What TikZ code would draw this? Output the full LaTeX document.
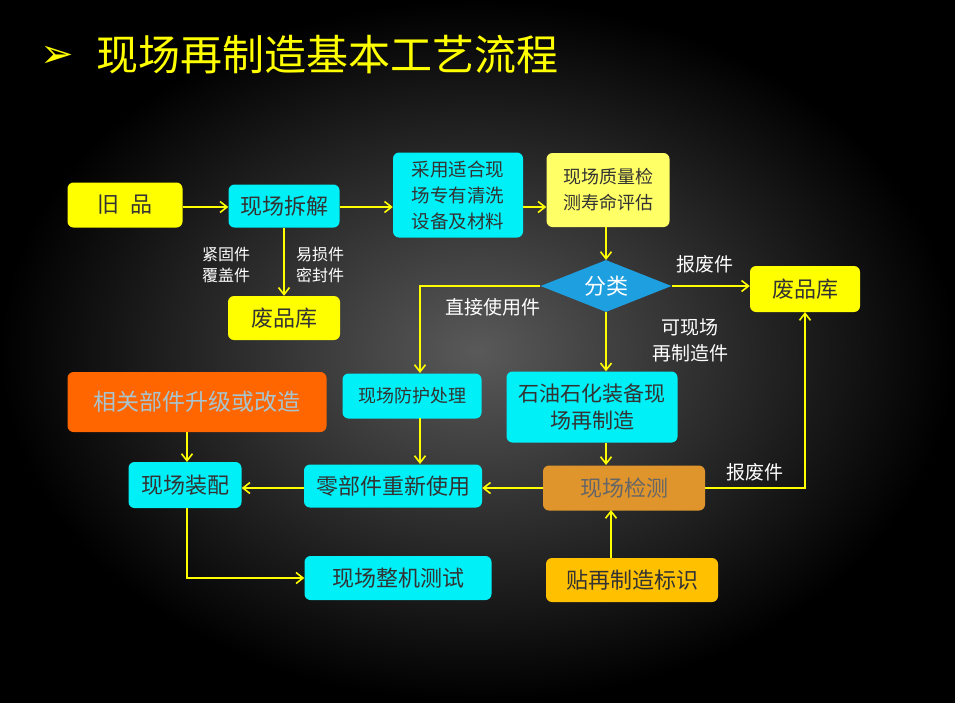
\documentclass[tikz,border=0pt]{standalone}
\usepackage{fontspec}
\setmainfont{Noto Sans CJK SC}
\usetikzlibrary{shapes.geometric,arrows.meta}
\definecolor{cy}{HTML}{00F0F8}
\definecolor{yl}{HTML}{FFFF00}
\definecolor{lyl}{HTML}{FFFF66}
\definecolor{bl}{HTML}{1E9FE0}
\definecolor{og}{HTML}{FF6600}
\definecolor{br}{HTML}{E0952C}
\definecolor{gd}{HTML}{FFC000}
\definecolor{ogt}{HTML}{A8C4D0}
\tikzset{
 box/.style={rounded corners=6pt,inner sep=1pt,align=center,font=\fontsize{22}{26}\selectfont},
 cbox/.style={box,fill=cy,text=black!80},
 ybox/.style={box,fill=yl,text=black!80},
 lbl/.style={text=white,font=\fontsize{19}{23}\selectfont,align=center},
 conn/.style={draw=yl,line width=1.6pt,-{Straight Barb[length=7pt,width=11pt,line width=1.6pt]}}
}
\begin{document}
\begin{tikzpicture}[x=1pt,y=-1pt]
\useasboundingbox (0,0) rectangle (955,702);
\fill[black] (0,0) rectangle (955,702);
\shade[inner color=black!65,outer color=black] (0,0) rectangle (955,702);
\node[text=yl,anchor=west,font=\fontsize{40}{44}\selectfont,inner sep=0pt] (arr) at (40,57) {\fontspec{DejaVu Sans}➢};
\node[text=yl,anchor=west,font=\fontsize{42}{46}\selectfont,inner sep=0pt] (title) at (96,55) {现场再制造基本工艺流程};
\node[ybox,minimum width=115,minimum height=45] (jp) at (125,205) {旧\hspace{12pt}品};
\node[cbox,minimum width=111,minimum height=43] (cj) at (284,206) {现场拆解};
\node[cbox,minimum width=130,minimum height=85,font=\fontsize{18.5}{26}\selectfont] (qx) at (458,195) {采用适合现\\场专有清洗\\设备及材料};
\node[box,fill=lyl,text=black!80,minimum width=123,minimum height=74,font=\fontsize{18}{26}\selectfont] (zl) at (608,190) {现场质量检\\测寿命评估};
\node[diamond,fill=bl,text=white,minimum width=131,minimum height=52,inner sep=0pt,aspect=2.5,font=\fontsize{22}{26}\selectfont] (fl) at (606,286) {分类};
\node[ybox,minimum width=110,minimum height=46] (fr) at (805,289) {废品库};
\node[ybox,minimum width=112,minimum height=44] (fk) at (284,318) {废品库};
\node[box,fill=og,text=ogt,minimum width=259,minimum height=60,font=\fontsize{23}{27}\selectfont] (xg) at (197,402) {相关部件升级或改造};
\node[cbox,minimum width=139,minimum height=45,font=\fontsize{18}{22}\selectfont] (fh) at (412,396) {现场防护处理};
\node[cbox,minimum width=171,minimum height=71,font=\fontsize{21}{28}\selectfont] (sy) at (592,407) {石油石化装备现\\场再制造};
\node[cbox,minimum width=113,minimum height=46] (zp) at (185,485) {现场装配};
\node[cbox,minimum width=178,minimum height=43] (lb) at (393,486) {零部件重新使用};
\node[box,fill=br,text=black!60,minimum width=162,minimum height=45] (jc) at (624,488) {现场检测};
\node[cbox,minimum width=187,minimum height=44] (zj) at (398,578) {现场整机测试};
\node[box,fill=gd,text=black!80,minimum width=172,minimum height=44] (tb) at (632,580) {贴再制造标识};
\node[lbl,font=\fontsize{16}{21}\selectfont] (l1) at (226,265) {紧固件\\覆盖件};
\node[lbl,font=\fontsize{16}{21}\selectfont] (l2) at (320,265) {易损件\\密封件};
\node[lbl] (l3) at (493,307) {直接使用件};
\node[lbl] (l4) at (705,264) {报废件};
\node[lbl,font=\fontsize{19}{26}\selectfont] (l5) at (690,340) {可现场\\再制造件};
\node[lbl] (l6) at (755,472) {报废件};
\draw[conn] (jp.east|-0,207) -- (cj.west|-0,207);
\draw[conn] (cj.east|-0,207) -- (qx.west|-0,207);
\draw[conn] (qx.east|-0,207) -- (zl.west|-0,207);
\draw[conn] (606,227) -- (606,260);
\draw[conn] (fl.east) -- (fr.west|-fl.east);
\draw[conn] (cj.south) -- (fk.north);
\draw[conn] (fl.west) -| (420,373);
\draw[conn] (fl.south) -- (fl.south|-sy.north);
\draw[conn] (420,418) -- (420,464);
\draw[conn] (606,443) -- (606,465);
\draw[conn] (jc.west|-0,488) -- (lb.east|-0,488);
\draw[conn] (lb.west|-0,488) -- (zp.east|-0,488);
\draw[conn] (187,432) -- (187,462);
\draw[conn] (187,508) |- (zj.west);
\draw[conn] (611,558) -- (611,510);
\draw[conn] (jc.east) -| (805,312);
\end{tikzpicture}
\end{document}
